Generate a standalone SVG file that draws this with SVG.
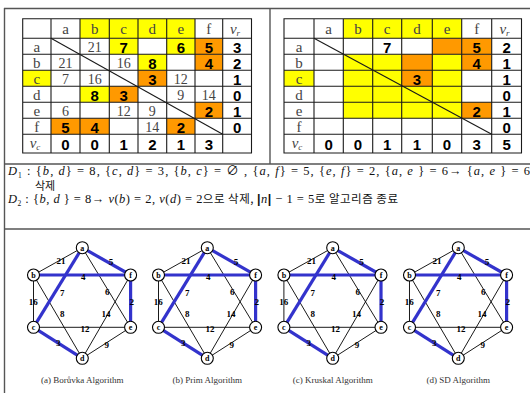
<svg xmlns="http://www.w3.org/2000/svg" width="530" height="393" viewBox="0 0 530 393">
<defs>
<style>
.frame{stroke:#555;stroke-width:1.4;fill:none}
.grid{stroke:#1a1a1a;stroke-width:1.1;fill:none}
.y{fill:#ffff00}
.o{fill:#ff9900}
.hd{font-family:"Liberation Serif",serif;font-size:15px;fill:#444;text-anchor:middle}
.sv{font-family:"Liberation Serif",serif;font-size:14px;fill:#444;text-anchor:middle}
.bv{font-family:"Liberation Sans",sans-serif;font-weight:bold;font-size:15px;fill:#000;text-anchor:middle}
.math{font-family:"Liberation Serif","Noto Sans CJK KR",serif;font-size:12.5px;fill:#111}
.kr{font-family:"Noto Sans CJK KR",sans-serif;font-size:11px;fill:#111}
.e{stroke:#000;stroke-width:0.9;fill:none}
.m{stroke:#3333cc;stroke-width:3.2;fill:none}
.nd{fill:#fff;stroke:#000;stroke-width:1.1}
.nl{font-family:"Liberation Serif",serif;font-weight:bold;font-size:8px;fill:#000;text-anchor:middle}
.wl{font-family:"Liberation Serif",serif;font-weight:bold;font-size:9px;fill:#000;text-anchor:middle}
.cap{font-family:"Liberation Serif",serif;font-size:9px;fill:#333;text-anchor:middle}
</style>
</defs>
<rect width="530" height="393" fill="#fff"/>
<g id="frame">
<line class="frame" x1="4" y1="8.5" x2="530" y2="8.5"/>
<line class="frame" x1="4.5" y1="8" x2="4.5" y2="393"/>
<line class="frame" x1="270" y1="8.5" x2="270" y2="164"/>
<line class="frame" x1="4" y1="164" x2="530" y2="164"/>
<line class="frame" x1="4" y1="229" x2="530" y2="229"/>
</g>

<g id="table-left">
<rect class="y" x="80" y="18.7" width="115" height="19.6"/>
<rect class="y" x="22.7" y="70.2" width="28.3" height="16"/>
<rect class="y" x="109.3" y="38.3" width="28.7" height="16"/>
<rect class="y" x="166.7" y="38.3" width="28.3" height="16"/>
<rect class="y" x="138" y="54.3" width="28.7" height="15.9"/>
<rect class="y" x="80" y="86.2" width="29.3" height="16"/>
<rect class="o" x="195" y="38.3" width="27.7" height="16"/>
<rect class="o" x="195" y="54.3" width="27.7" height="15.9"/>
<rect class="o" x="138" y="70.2" width="28.7" height="16"/>
<rect class="o" x="109.3" y="86.2" width="28.7" height="16"/>
<rect class="o" x="195" y="102.2" width="27.7" height="16.1"/>
<rect class="o" x="51" y="118.3" width="29" height="16"/>
<rect class="o" x="80" y="118.3" width="29.3" height="16"/>
<rect class="o" x="166.7" y="118.3" width="28.3" height="16"/>
<path class="grid" d="M22.7 18.7H251.5V153H22.7Z M22.7 38.3H251.5 M22.7 54.3H251.5 M22.7 70.2H251.5 M22.7 86.2H251.5 M22.7 102.2H251.5 M22.7 118.3H251.5 M22.7 134.3H251.5 M51 18.7V153 M80 18.7V153 M109.3 18.7V153 M138 18.7V153 M166.7 18.7V153 M195 18.7V153 M222.7 18.7V153"/>
<line class="grid" x1="51" y1="38.3" x2="222.7" y2="134.3"/>
<g class="hd">
<text x="65.5" y="34">a</text><text x="94.65" y="34">b</text><text x="123.65" y="34">c</text><text x="152.35" y="34">d</text><text x="180.85" y="34">e</text><text x="208.85" y="34">f</text>
<text x="235" y="34" font-style="italic">v<tspan font-size="9" dy="2">r</tspan></text>
<text x="36.85" y="52">a</text><text x="36.85" y="68">b</text><text x="36.85" y="84">c</text><text x="36.85" y="100">d</text><text x="36.85" y="116">e</text><text x="36.85" y="132">f</text>
<text x="35" y="148" font-style="italic">v<tspan font-size="9" dy="2">c</tspan></text>
</g>
<g class="sv">
<text x="94.65" y="52.3">21</text>
<text x="65.5" y="68.3">21</text><text x="123.65" y="68.3">16</text>
<text x="65.5" y="84.3">7</text><text x="94.65" y="84.3">16</text><text x="180.85" y="84.3">12</text>
<text x="180.85" y="100.3">9</text><text x="208.85" y="100.3">14</text>
<text x="65.5" y="116.4">6</text><text x="123.65" y="116.4">12</text><text x="152.35" y="116.4">9</text>
<text x="152.35" y="132.4">14</text>
</g>
<g class="bv">
<text x="123.65" y="52.6">7</text><text x="180.85" y="52.6">6</text><text x="208.85" y="52.6">5</text><text x="237.1" y="52.6">3</text>
<text x="152.35" y="68.6">8</text><text x="208.85" y="68.6">4</text><text x="237.1" y="68.6">2</text>
<text x="152.35" y="84.6">3</text><text x="237.1" y="84.6">1</text>
<text x="94.65" y="100.6">8</text><text x="123.65" y="100.6">3</text><text x="237.1" y="100.6">0</text>
<text x="208.85" y="116.6">2</text><text x="237.1" y="116.6">1</text>
<text x="65.5" y="132.6">5</text><text x="94.65" y="132.6">4</text><text x="180.85" y="132.6">2</text><text x="237.1" y="132.6">0</text>
<text x="65.5" y="149.5">0</text><text x="94.65" y="149.5">0</text><text x="123.65" y="149.5">1</text><text x="152.35" y="149.5">2</text><text x="180.85" y="149.5">1</text><text x="208.85" y="149.5">3</text>
</g>
</g>

<g id="table-right">
<rect class="y" x="343.3" y="18.7" width="118.4" height="19.6"/>
<rect class="y" x="284" y="70.2" width="30" height="16"/>
<rect class="y" x="343.3" y="54.3" width="118.4" height="64"/>
<rect class="o" x="401.7" y="54.3" width="30.6" height="15.9"/>
<rect class="o" x="401.7" y="70.2" width="30.6" height="16"/>
<rect class="o" x="432.3" y="38.3" width="29.4" height="16"/>
<rect class="o" x="461.7" y="38.3" width="30" height="16"/>
<rect class="o" x="461.7" y="54.3" width="30" height="15.9"/>
<rect class="o" x="461.7" y="102.2" width="30" height="16.1"/>
<path class="grid" d="M284 18.7H521.5V153H284Z M284 38.3H521.5 M284 54.3H521.5 M284 70.2H521.5 M284 86.2H521.5 M284 102.2H521.5 M284 118.3H521.5 M284 134.3H521.5 M314 18.7V153 M343.3 18.7V153 M372.7 18.7V153 M401.7 18.7V153 M432.3 18.7V153 M461.7 18.7V153 M491.7 18.7V153"/>
<line class="grid" x1="314" y1="38.3" x2="491.7" y2="134.3"/>
<g class="hd">
<text x="328.65" y="34">a</text><text x="358" y="34">b</text><text x="387.2" y="34">c</text><text x="417" y="34">d</text><text x="447" y="34">e</text><text x="476.7" y="34">f</text>
<text x="504.5" y="34" font-style="italic">v<tspan font-size="9" dy="2">r</tspan></text>
<text x="299" y="52">a</text><text x="299" y="68">b</text><text x="299" y="84">c</text><text x="299" y="100">d</text><text x="299" y="116">e</text><text x="299" y="132">f</text>
<text x="297" y="148" font-style="italic">v<tspan font-size="9" dy="2">c</tspan></text>
</g>
<g class="bv">
<text x="387.2" y="52.6">7</text><text x="476.7" y="52.6">5</text><text x="506.6" y="52.6">2</text>
<text x="476.7" y="68.6">4</text><text x="506.6" y="68.6">1</text>
<text x="417" y="84.6">3</text><text x="506.6" y="84.6">1</text>
<text x="506.6" y="100.6">0</text>
<text x="476.7" y="116.6">2</text><text x="506.6" y="116.6">1</text>
<text x="506.6" y="132.6">0</text>
<text x="328.65" y="149.5">0</text><text x="358" y="149.5">0</text><text x="387.2" y="149.5">1</text><text x="417" y="149.5">1</text><text x="447" y="149.5">0</text><text x="476.7" y="149.5">3</text><text x="506.6" y="149.5">5</text>
</g>
</g>

<g id="text-block">
<text class="math" x="8" y="175" textLength="522" lengthAdjust="spacing"><tspan font-style="italic">D</tspan><tspan font-size="7.5" dy="2.5">1</tspan><tspan dy="-2.5"> :  {</tspan><tspan font-style="italic">b</tspan>, <tspan font-style="italic">d</tspan>} = 8, {<tspan font-style="italic">c</tspan>, <tspan font-style="italic">d</tspan>} = 3, {<tspan font-style="italic">b</tspan>, <tspan font-style="italic">c</tspan>} = ∅ , {<tspan font-style="italic">a</tspan>, <tspan font-style="italic">f</tspan>} = 5, {<tspan font-style="italic">e</tspan>, <tspan font-style="italic">f</tspan>} = 2, {<tspan font-style="italic">a</tspan>, <tspan font-style="italic">e</tspan> } = 6→ {<tspan font-style="italic">a</tspan>, <tspan font-style="italic">e</tspan> } = 6</text>
<text class="kr" x="35" y="190">삭제</text>
<text class="math" x="8" y="203" textLength="390" lengthAdjust="spacing"><tspan font-style="italic">D</tspan><tspan font-size="7.5" dy="2.5">2</tspan><tspan dy="-2.5"> :  {</tspan><tspan font-style="italic">b</tspan>, <tspan font-style="italic">d</tspan> } = 8→ <tspan font-style="italic">v</tspan>(<tspan font-style="italic">b</tspan>) = 2, <tspan font-style="italic">v</tspan>(<tspan font-style="italic">d</tspan>) = 2<tspan font-family="Noto Sans CJK KR, sans-serif" font-size="11.5">으로 삭제, </tspan><tspan font-weight="bold" font-family="Liberation Sans, sans-serif">|</tspan><tspan font-style="italic">n</tspan><tspan font-weight="bold" font-family="Liberation Sans, sans-serif">|</tspan> − 1 = 5<tspan font-family="Noto Sans CJK KR, sans-serif" font-size="11.5">로 알고리즘 종료</tspan></text>
</g>

<g id="graph-a" transform="translate(82.3,0)">
<g id="graph-a-connectors">
<line class="e" x1="0" y1="247.7" x2="-48.8" y2="275"/>
<line class="e" x1="0" y1="247.7" x2="48.3" y2="327.3"/>
<line class="e" x1="-48.8" y1="275" x2="-48.8" y2="327.3"/>
<line class="e" x1="-48.8" y1="275" x2="0" y2="358.3"/>
<line class="e" x1="48.3" y1="275" x2="0" y2="358.3"/>
<line class="e" x1="-48.8" y1="327.3" x2="48.3" y2="327.3"/>
<line class="e" x1="0" y1="358.3" x2="48.3" y2="327.3"/>
<line class="m" x1="0" y1="247.7" x2="48.3" y2="275"/>
<line class="m" x1="0" y1="247.7" x2="-48.8" y2="327.3"/>
<line class="m" x1="-48.8" y1="275" x2="48.3" y2="275"/>
<line class="m" x1="48.3" y1="275" x2="48.3" y2="327.3"/>
<line class="m" x1="-48.8" y1="327.3" x2="0" y2="358.3"/>
<g class="wl"><text x="-21.3" y="264">21</text><text x="28.7" y="265.3">5</text><text x="1" y="280.3">4</text><text x="-20" y="296.3">7</text><text x="25" y="294.7">6</text><text x="-49" y="304.7">16</text><text x="49.4" y="304.7">2</text><text x="-20" y="317.3">8</text><text x="23.7" y="317.3">14</text><text x="2.7" y="332.3">12</text><text x="-24" y="345.7">3</text><text x="24.4" y="348">9</text></g>
</g>
<g id="graph-a-node-a"><circle class="nd" cx="0" cy="247.7" r="6"/><text class="nl" x="0" y="250.5">a</text></g>
<g id="graph-a-node-b"><circle class="nd" cx="-48.8" cy="275" r="6"/><text class="nl" x="-48.8" y="277.8">b</text></g>
<g id="graph-a-node-f"><circle class="nd" cx="48.3" cy="275" r="6"/><text class="nl" x="48.3" y="277.8">f</text></g>
<g id="graph-a-node-c"><circle class="nd" cx="-48.8" cy="327.3" r="6"/><text class="nl" x="-48.8" y="330.1">c</text></g>
<g id="graph-a-node-e"><circle class="nd" cx="48.3" cy="327.3" r="6"/><text class="nl" x="48.3" y="330.1">e</text></g>
<g id="graph-a-node-d"><circle class="nd" cx="0" cy="358.3" r="6"/><text class="nl" x="0" y="361.1">d</text></g>
<text class="cap" x="0" y="383">(a) Borůvka  Algorithm</text>
</g>

<g id="graph-b" transform="translate(207.3,0)">
<g id="graph-b-connectors">
<line class="e" x1="0" y1="247.7" x2="-48.8" y2="275"/>
<line class="e" x1="0" y1="247.7" x2="48.3" y2="327.3"/>
<line class="e" x1="-48.8" y1="275" x2="-48.8" y2="327.3"/>
<line class="e" x1="-48.8" y1="275" x2="0" y2="358.3"/>
<line class="e" x1="48.3" y1="275" x2="0" y2="358.3"/>
<line class="e" x1="-48.8" y1="327.3" x2="48.3" y2="327.3"/>
<line class="e" x1="0" y1="358.3" x2="48.3" y2="327.3"/>
<line class="m" x1="0" y1="247.7" x2="48.3" y2="275"/>
<line class="m" x1="0" y1="247.7" x2="-48.8" y2="327.3"/>
<line class="m" x1="-48.8" y1="275" x2="48.3" y2="275"/>
<line class="m" x1="48.3" y1="275" x2="48.3" y2="327.3"/>
<line class="m" x1="-48.8" y1="327.3" x2="0" y2="358.3"/>
<g class="wl"><text x="-21.3" y="264">21</text><text x="28.7" y="265.3">5</text><text x="1" y="280.3">4</text><text x="-20" y="296.3">7</text><text x="25" y="294.7">6</text><text x="-49" y="304.7">16</text><text x="49.4" y="304.7">2</text><text x="-20" y="317.3">8</text><text x="23.7" y="317.3">14</text><text x="2.7" y="332.3">12</text><text x="-24" y="345.7">3</text><text x="24.4" y="348">9</text></g>
</g>
<g id="graph-b-node-a"><circle class="nd" cx="0" cy="247.7" r="6"/><text class="nl" x="0" y="250.5">a</text></g>
<g id="graph-b-node-b"><circle class="nd" cx="-48.8" cy="275" r="6"/><text class="nl" x="-48.8" y="277.8">b</text></g>
<g id="graph-b-node-f"><circle class="nd" cx="48.3" cy="275" r="6"/><text class="nl" x="48.3" y="277.8">f</text></g>
<g id="graph-b-node-c"><circle class="nd" cx="-48.8" cy="327.3" r="6"/><text class="nl" x="-48.8" y="330.1">c</text></g>
<g id="graph-b-node-e"><circle class="nd" cx="48.3" cy="327.3" r="6"/><text class="nl" x="48.3" y="330.1">e</text></g>
<g id="graph-b-node-d"><circle class="nd" cx="0" cy="358.3" r="6"/><text class="nl" x="0" y="361.1">d</text></g>
<text class="cap" x="0" y="383">(b) Prim Algorithm</text>
</g>

<g id="graph-c" transform="translate(332.7,0)">
<g id="graph-c-connectors">
<line class="e" x1="0" y1="247.7" x2="-48.8" y2="275"/>
<line class="e" x1="0" y1="247.7" x2="48.3" y2="327.3"/>
<line class="e" x1="-48.8" y1="275" x2="-48.8" y2="327.3"/>
<line class="e" x1="-48.8" y1="275" x2="0" y2="358.3"/>
<line class="e" x1="48.3" y1="275" x2="0" y2="358.3"/>
<line class="e" x1="-48.8" y1="327.3" x2="48.3" y2="327.3"/>
<line class="e" x1="0" y1="358.3" x2="48.3" y2="327.3"/>
<line class="m" x1="0" y1="247.7" x2="48.3" y2="275"/>
<line class="m" x1="0" y1="247.7" x2="-48.8" y2="327.3"/>
<line class="m" x1="-48.8" y1="275" x2="48.3" y2="275"/>
<line class="m" x1="48.3" y1="275" x2="48.3" y2="327.3"/>
<line class="m" x1="-48.8" y1="327.3" x2="0" y2="358.3"/>
<g class="wl"><text x="-21.3" y="264">21</text><text x="28.7" y="265.3">5</text><text x="1" y="280.3">4</text><text x="-20" y="296.3">7</text><text x="25" y="294.7">6</text><text x="-49" y="304.7">16</text><text x="49.4" y="304.7">2</text><text x="-20" y="317.3">8</text><text x="23.7" y="317.3">14</text><text x="2.7" y="332.3">12</text><text x="-24" y="345.7">3</text><text x="24.4" y="348">9</text></g>
</g>
<g id="graph-c-node-a"><circle class="nd" cx="0" cy="247.7" r="6"/><text class="nl" x="0" y="250.5">a</text></g>
<g id="graph-c-node-b"><circle class="nd" cx="-48.8" cy="275" r="6"/><text class="nl" x="-48.8" y="277.8">b</text></g>
<g id="graph-c-node-f"><circle class="nd" cx="48.3" cy="275" r="6"/><text class="nl" x="48.3" y="277.8">f</text></g>
<g id="graph-c-node-c"><circle class="nd" cx="-48.8" cy="327.3" r="6"/><text class="nl" x="-48.8" y="330.1">c</text></g>
<g id="graph-c-node-e"><circle class="nd" cx="48.3" cy="327.3" r="6"/><text class="nl" x="48.3" y="330.1">e</text></g>
<g id="graph-c-node-d"><circle class="nd" cx="0" cy="358.3" r="6"/><text class="nl" x="0" y="361.1">d</text></g>
<text class="cap" x="0" y="383">(c) Kruskal Algorithm</text>
</g>

<g id="graph-d" transform="translate(458.3,0)">
<g id="graph-d-connectors">
<line class="e" x1="0" y1="247.7" x2="-48.8" y2="275"/>
<line class="e" x1="0" y1="247.7" x2="48.3" y2="327.3"/>
<line class="e" x1="-48.8" y1="275" x2="-48.8" y2="327.3"/>
<line class="e" x1="-48.8" y1="275" x2="0" y2="358.3"/>
<line class="e" x1="48.3" y1="275" x2="0" y2="358.3"/>
<line class="e" x1="-48.8" y1="327.3" x2="48.3" y2="327.3"/>
<line class="e" x1="0" y1="358.3" x2="48.3" y2="327.3"/>
<line class="m" x1="0" y1="247.7" x2="48.3" y2="275"/>
<line class="m" x1="0" y1="247.7" x2="-48.8" y2="327.3"/>
<line class="m" x1="-48.8" y1="275" x2="48.3" y2="275"/>
<line class="m" x1="48.3" y1="275" x2="48.3" y2="327.3"/>
<line class="m" x1="-48.8" y1="327.3" x2="0" y2="358.3"/>
<g class="wl"><text x="-21.3" y="264">21</text><text x="28.7" y="265.3">5</text><text x="1" y="280.3">4</text><text x="-20" y="296.3">7</text><text x="25" y="294.7">6</text><text x="-49" y="304.7">16</text><text x="49.4" y="304.7">2</text><text x="-20" y="317.3">8</text><text x="23.7" y="317.3">14</text><text x="2.7" y="332.3">12</text><text x="-24" y="345.7">3</text><text x="24.4" y="348">9</text></g>
</g>
<g id="graph-d-node-a"><circle class="nd" cx="0" cy="247.7" r="6"/><text class="nl" x="0" y="250.5">a</text></g>
<g id="graph-d-node-b"><circle class="nd" cx="-48.8" cy="275" r="6"/><text class="nl" x="-48.8" y="277.8">b</text></g>
<g id="graph-d-node-f"><circle class="nd" cx="48.3" cy="275" r="6"/><text class="nl" x="48.3" y="277.8">f</text></g>
<g id="graph-d-node-c"><circle class="nd" cx="-48.8" cy="327.3" r="6"/><text class="nl" x="-48.8" y="330.1">c</text></g>
<g id="graph-d-node-e"><circle class="nd" cx="48.3" cy="327.3" r="6"/><text class="nl" x="48.3" y="330.1">e</text></g>
<g id="graph-d-node-d"><circle class="nd" cx="0" cy="358.3" r="6"/><text class="nl" x="0" y="361.1">d</text></g>
<text class="cap" x="0" y="383">(d) SD Algorithm</text>
</g>
</svg>
